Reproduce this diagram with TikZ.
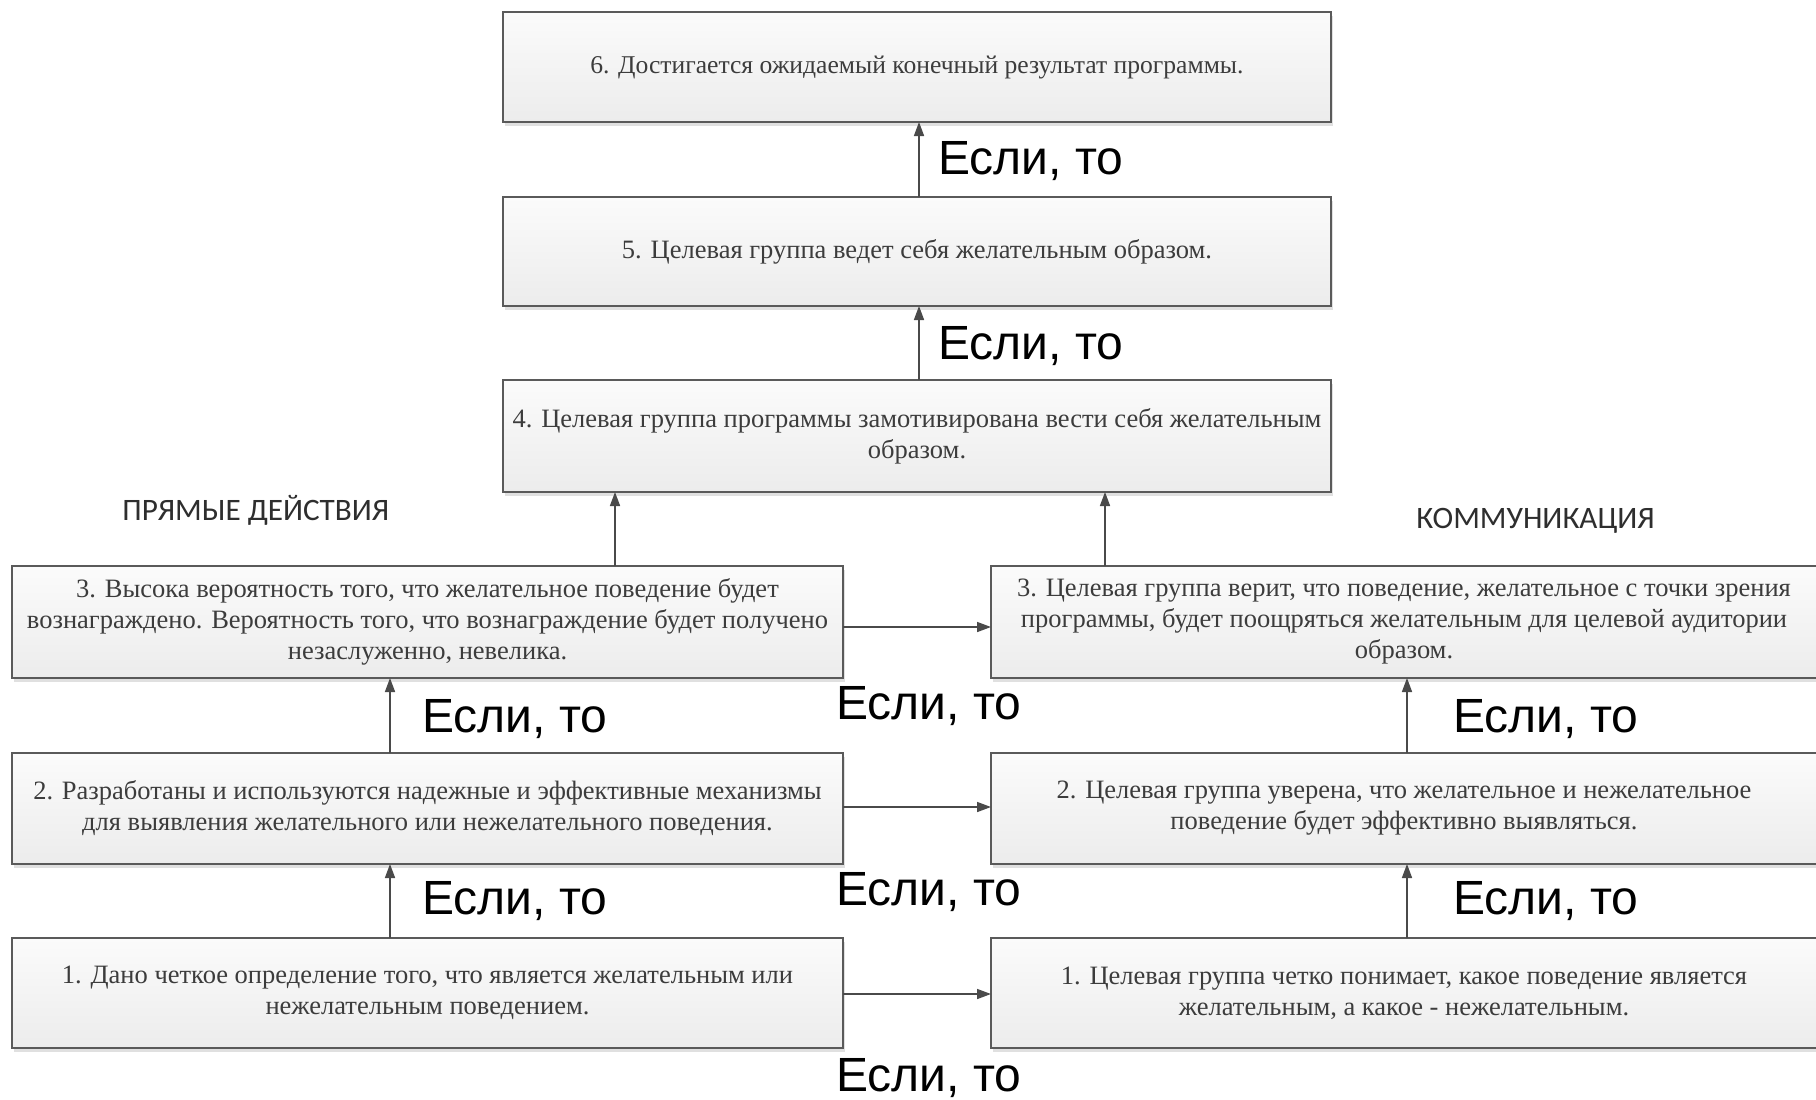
\documentclass[tikz,border=0pt]{standalone}
\usepackage{fontspec}
\setmainfont{Liberation Serif}
\newfontfamily\labfont{Liberation Sans}
\newfontfamily\headfont{Carlito}
\usetikzlibrary{arrows.meta,shadows,calc}
\definecolor{boxline}{HTML}{5A5A5A}
\definecolor{boxtext}{HTML}{3C3C3C}
\definecolor{arrcol}{HTML}{4A4A4A}
\definecolor{boxtop}{HTML}{FBFBFB}
\definecolor{boxbot}{HTML}{ECECEC}
\definecolor{headcol}{HTML}{2E2E2E}
\tikzset{
  stepbox/.style={rectangle, draw=boxline, line width=1pt, top color=boxtop, bottom color=boxbot,
    inner sep=0pt, outer sep=0pt, align=center, text=boxtext,
    font=\fontsize{13.25pt}{15.5pt}\selectfont,
    drop shadow={shadow xshift=1pt, shadow yshift=-2pt, fill=black, opacity=0.12}},
  arr/.style={draw=arrcol, line width=0.8pt, -{Triangle[length=7pt,width=5pt]}},
  iflabel/.style={anchor=base west, inner sep=0pt, font=\labfont\fontsize{24pt}{28pt}\selectfont, text=black},
  headlabel/.style={anchor=base west, inner sep=0pt, font=\headfont\fontsize{15.6pt}{18pt}\selectfont, text=headcol}
}
\begin{document}
\begin{tikzpicture}[x=0.5pt,y=-0.5pt]
\useasboundingbox (0,0) rectangle (1816,1099);
\clip (0,0) rectangle (1816,1099);
\fill[white] (0,0) rectangle (1816,1099);

% central column
\node[stepbox, minimum width=414pt, minimum height=55pt, font=\fontsize{12.8pt}{15.5pt}\selectfont] (b6) at (917,67)
  {6. Достигается ожидаемый конечный результат программы.};
\node[stepbox, minimum width=414pt, minimum height=54.5pt] (b5) at (917,251.5)
  {5. Целевая группа ведет себя желательным образом.};
\node[stepbox, minimum width=414pt, minimum height=56pt] (b4) at (917,436)
  {4. Целевая группа программы замотивирована вести себя желательным\\образом.};

% left column
\node[stepbox, minimum width=415.5pt, minimum height=56pt] (L3) at (427.5,622)
  {3. Высока вероятность того, что желательное поведение будет\\вознаграждено. Вероятность того, что вознаграждение будет получено\\незаслуженно, невелика.};
\node[stepbox, minimum width=415.5pt, minimum height=55.5pt] (L2) at (427.5,808.5)
  {2. Разработаны и используются надежные и эффективные механизмы\\для выявления желательного или нежелательного поведения.};
\node[stepbox, minimum width=415.5pt, minimum height=55pt] (L1) at (427.5,993)
  {1. Дано четкое определение того, что является желательным или\\нежелательным поведением.};

% right column
\node[stepbox, minimum width=413pt, minimum height=56pt] (R3) at (1404,622)
  {3. Целевая группа верит, что поведение, желательное с точки зрения\\программы, будет поощряться желательным для целевой аудитории\\образом.};
\node[stepbox, minimum width=413pt, minimum height=55.5pt] (R2) at (1404,808.5)
  {2. Целевая группа уверена, что желательное и нежелательное\\поведение будет эффективно выявляться.};
\node[stepbox, minimum width=413pt, minimum height=55pt] (R1) at (1404,993)
  {1. Целевая группа четко понимает, какое поведение является\\желательным, а какое - нежелательным.};

% headings
\node[headlabel] (hl) at (122,520) {ПРЯМЫЕ ДЕЙСТВИЯ};
\node[headlabel] (hr) at (1416,528) {КОММУНИКАЦИЯ};

% vertical arrows, central
\draw[arr] ([xshift=1pt]b5.north) -- ([xshift=1pt]b6.south);
\draw[arr] ([xshift=1pt]b4.north) -- ([xshift=1pt]b5.south);
\draw[arr] ([xshift=93.75pt]L3.north) -- ([xshift=93.75pt]L3.north |- b4.south);
\draw[arr] ([xshift=-149.5pt]R3.north) -- ([xshift=-149.5pt]R3.north |- b4.south);

% vertical arrows, left / right
\draw[arr] ([xshift=-18.75pt]L2.north) -- ([xshift=-18.75pt]L3.south);
\draw[arr] ([xshift=-18.75pt]L1.north) -- ([xshift=-18.75pt]L2.south);
\draw[arr] ([xshift=1.5pt]R2.north) -- ([xshift=1.5pt]R3.south);
\draw[arr] ([xshift=1.5pt]R1.north) -- ([xshift=1.5pt]R2.south);

% horizontal arrows
\draw[arr] ([yshift=-2.5pt]L3.east) -- ([yshift=-2.5pt]L3.east -| R3.west);
\draw[arr] ([yshift=0.75pt]L2.east) -- ([yshift=0.75pt]L2.east -| R2.west);
\draw[arr] ([yshift=-0.5pt]L1.east) -- ([yshift=-0.5pt]L1.east -| R1.west);

% labels
\node[iflabel] (t1) at (938,174) {Если, то};
\node[iflabel] (t2) at (938,359) {Если, то};
\node[iflabel] (m3) at (836,719) {Если, то};
\node[iflabel] (m2) at (836,905) {Если, то};
\node[iflabel] (m1) at (836,1091) {Если, то};
\node[iflabel] (l3) at (422,732) {Если, то};
\node[iflabel] (l2) at (422,914) {Если, то};
\node[iflabel] (r3) at (1453,732) {Если, то};
\node[iflabel] (r2) at (1453,914) {Если, то};
\end{tikzpicture}
\end{document}
